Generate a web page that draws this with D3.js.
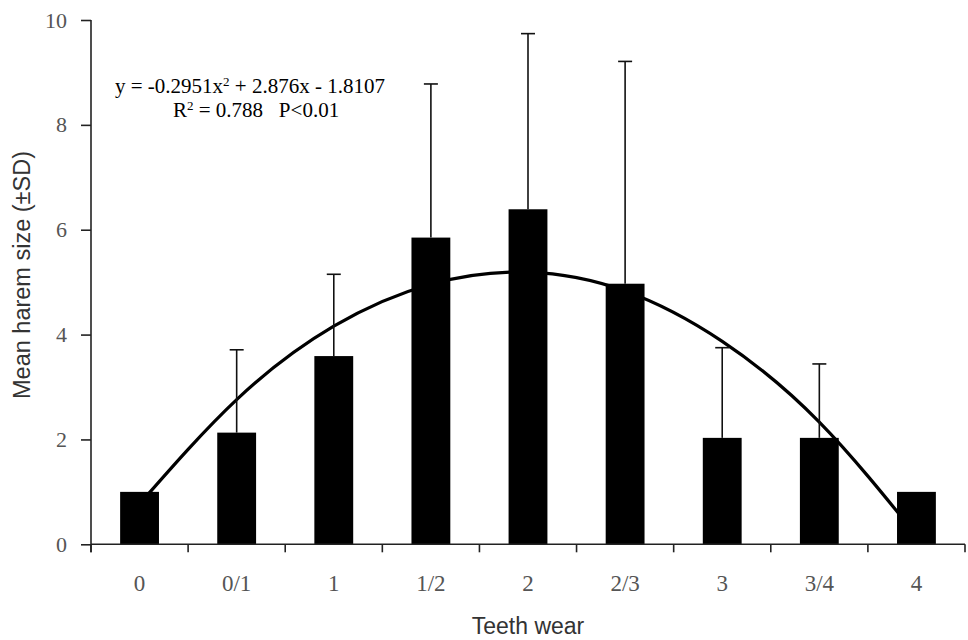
<!DOCTYPE html>
<html>
<head>
<meta charset="utf-8">
<script src="https://cdn.jsdelivr.net/npm/d3@7"></script>
<style>
  body { margin: 0; background: #fff; }
  svg { display: block; }
</style>
</head>
<body>
<svg width="968" height="640"></svg>
<script>
const width = 968;
const height = 640;

// data
const categories = ["0", "0/1", "1", "1/2", "2", "2/3", "3", "3/4", "4"];
const means = [1.0, 2.13, 3.59, 5.85, 6.39, 4.97, 2.03, 2.03, 1.0];
const sd = [0, 1.58, 1.56, 2.93, 3.35, 4.24, 1.72, 1.41, 0];
// polynomial trendline, value at each category centre
const trendValues = [0.77, 2.76, 4.16, 4.96, 5.19, 4.83, 3.87, 2.33, 0.17];
const yTicks = [0, 2, 4, 6, 8, 10];

const svg = d3.select("svg");

let x = d3
  .scaleBand()
  .domain(categories)
  .range([91, 965])
  .paddingInner(0.6)
  .paddingOuter(0.3);

let y = d3
  .scaleLinear()
  .domain([0, 10])
  .range([544.3, 20]);

const bw = x.bandwidth();
const cx = d => x(d) + bw / 2;

// trendline (behind bars)
let line = d3
  .line()
  .x((d, i) => cx(categories[i]))
  .y(d => y(d))
  .curve(d3.curveNatural);

svg.append("path")
  .datum(trendValues)
  .attr("fill", "none")
  .attr("stroke", "#000")
  .attr("stroke-width", 3.2)
  .attr("d", line);

// bars
svg.selectAll(".bar")
  .data(means)
  .join("rect")
  .attr("class", "bar")
  .attr("x", (d, i) => x(categories[i]))
  .attr("y", d => y(d))
  .attr("width", bw)
  .attr("height", d => y(0) - y(d))
  .attr("fill", "#000");

// upper error bars
const errs = means.map((m, i) => ({ c: categories[i], m: m, s: sd[i] })).filter(d => d.s > 0);
const eg = svg.append("g").attr("stroke", "#111").attr("stroke-width", 1.6);
eg.selectAll(".stem")
  .data(errs)
  .join("line")
  .attr("x1", d => cx(d.c))
  .attr("x2", d => cx(d.c))
  .attr("y1", d => y(d.m))
  .attr("y2", d => y(d.m + d.s));
eg.selectAll(".cap")
  .data(errs)
  .join("line")
  .attr("x1", d => cx(d.c) - 7)
  .attr("x2", d => cx(d.c) + 7)
  .attr("y1", d => y(d.m + d.s))
  .attr("y2", d => y(d.m + d.s));

// y axis
const yAxis = svg.append("g")
  .attr("transform", "translate(91,0)")
  .call(d3.axisLeft(y).tickValues(yTicks).tickSize(10).tickPadding(14).tickFormat(d3.format("d")));
yAxis.select(".domain").remove();
yAxis.selectAll(".tick line").attr("stroke", "#222").attr("stroke-width", 1.6);
yAxis.selectAll("text")
  .attr("font-family", "Liberation Serif, Times New Roman, serif")
  .attr("font-size", 22)
  .attr("fill", "#555");

svg.append("line")
  .attr("x1", 91).attr("x2", 91)
  .attr("y1", y(10)).attr("y2", y(0) + 8)
  .attr("stroke", "#222").attr("stroke-width", 1.6);

// x axis: line, ticks at band boundaries, labels at centres
svg.append("line")
  .attr("x1", 91).attr("x2", 965)
  .attr("y1", y(0)).attr("y2", y(0))
  .attr("stroke", "#222").attr("stroke-width", 1.6);

const bounds = categories.map(c => cx(c) - x.step() / 2).concat([cx(categories[8]) + x.step() / 2]);
svg.selectAll(".xtick")
  .data(bounds)
  .join("line")
  .attr("class", "xtick")
  .attr("x1", d => d).attr("x2", d => d)
  .attr("y1", y(0)).attr("y2", y(0) + 8)
  .attr("stroke", "#222").attr("stroke-width", 1.6);

svg.selectAll(".xlabel")
  .data(categories)
  .join("text")
  .attr("class", "xlabel")
  .attr("x", d => cx(d))
  .attr("y", 591)
  .attr("text-anchor", "middle")
  .attr("font-family", "Liberation Serif, Times New Roman, serif")
  .attr("font-size", 23)
  .attr("fill", "#555")
  .text(d => d);

// axis titles
svg.append("text")
  .attr("x", 528)
  .attr("y", 634)
  .attr("text-anchor", "middle")
  .attr("font-family", "Liberation Sans, Arial, sans-serif")
  .attr("font-size", 23)
  .attr("fill", "#333")
  .text("Teeth wear");

svg.append("text")
  .attr("transform", "translate(30,275) rotate(-90)")
  .attr("text-anchor", "middle")
  .attr("font-family", "Liberation Sans, Arial, sans-serif")
  .attr("font-size", 23.5)
  .attr("fill", "#333")
  .text("Mean harem size (\u00b1SD)");

// trendline equation, two lines in one text block
const eq = svg.append("text")
  .attr("font-family", "Liberation Serif, Times New Roman, serif")
  .attr("font-size", 21)
  .attr("fill", "#000")
  .attr("y", 93)
  .style("white-space", "pre");

eq.append("tspan").attr("x", 115).attr("y", 93).text("y = -0.2951x");
eq.append("tspan").attr("font-size", 13).attr("dy", -7).text("2");
eq.append("tspan").attr("dy", 7).text(" + 2.876x - 1.8107");

eq.append("tspan").attr("x", 173).attr("y", 117).text("R");
eq.append("tspan").attr("font-size", 13).attr("dy", -7).text("2");
eq.append("tspan").attr("dy", 7).text(" = 0.788   P<0.01");
</script>
</body>
</html>
